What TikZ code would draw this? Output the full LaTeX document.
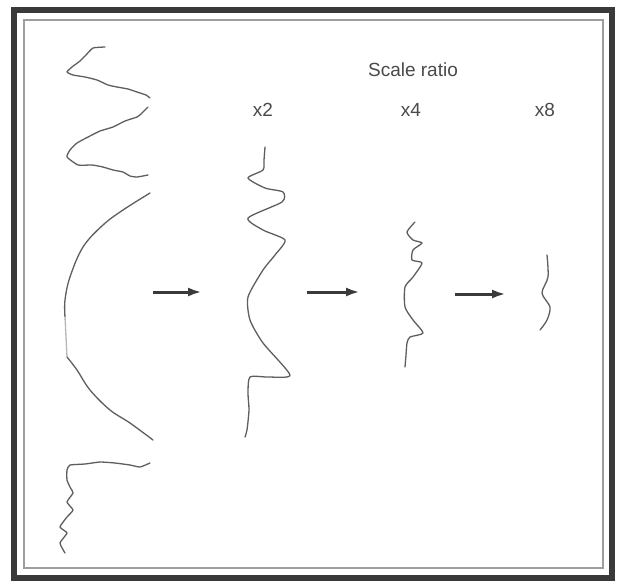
\documentclass[tikz,border=0pt]{standalone}
\usepackage{fontspec}
\usepackage{tikz}
\usetikzlibrary{arrows.meta}
\setsansfont{Liberation Sans}
\definecolor{frame}{HTML}{3A3A3A}
\definecolor{trace}{HTML}{5E5E5E}
\definecolor{label}{HTML}{4A4A4A}

\begin{document}
\begin{tikzpicture}[x=1pt,y=-1pt,
  profile/.style={draw=trace,line width=1.3pt,line join=round,line cap=round},
  shrink/.style={draw=frame,line width=3pt,-{Latex[length=14pt,width=9pt]}},
  ratio/.style={text=label,font=\sffamily\fontsize{19}{21}\selectfont}]
\useasboundingbox (0,0) rectangle (617,584);
\fill[white] (0,0) rectangle (617,584);
% frame
\draw[frame,line width=6pt] (14,10) rectangle (612,578);
\draw[trace!60,line width=1.2pt] (24,20) rectangle (603,568);
% labels
\node[ratio] (title) at (413,70) {Scale ratio};
\node[ratio] (r2) at (263,110) {x2};
\node[ratio] (r4) at (411,110) {x4};
\node[ratio] (r8) at (545,110) {x8};
% original profile
\draw[profile] plot[smooth,tension=0.3] coordinates {(105,47) (93,48) (86,55) (80,61) (72,67) (67,72) (73,75) (85,77) (97,80) (108,85) (117,87) (128,89) (137,92) (146,95) (150,98)};
\draw[profile] plot[smooth,tension=0.3] coordinates {(148,107) (141,114) (137,117) (125,121) (113,127) (100,131) (90,136) (77,143) (70,150) (67,157) (78,165) (92,165) (103,167) (113,170) (123,172) (130,176) (137,177) (148,175)};
\draw[profile] plot[smooth,tension=0.6] coordinates {(150,193) (123,210) (103,225) (83,247) (70,277) (65,300) (65,317)};
\draw[profile,trace!45] (65,317) -- (67,357);
\draw[profile] plot[smooth,tension=0.6] coordinates {(67,357) (77,370) (90,390) (110,410) (130,423) (153,440)};
\draw[profile] plot[smooth,tension=0.3] coordinates {(150,463) (140,467) (130,465) (115,463) (100,462) (85,464) (70,465) (67,470) (67,480) (70,487) (73,493) (67,502) (73,510) (67,517) (60,527) (67,533) (60,543) (65,553)};
% x2
\draw[profile] plot[smooth,tension=0.4] coordinates {(265,147) (264,160) (263,170) (248,178) (265,188) (283,192) (282,202) (248,218) (263,230) (285,240) (275,255) (263,270) (248,297) (250,320) (263,343) (290,375) (268,377) (250,377) (248,393) (249,410) (247,430) (245,437)};
% x4
\draw[profile] plot[smooth,tension=0.4] coordinates {(415,222) (407,232) (413,240) (422,243) (413,250) (412,260) (422,263) (413,277) (405,287) (405,307) (413,320) (423,333) (410,337) (407,343) (406,355) (405,367)};
% x8
\draw[profile] plot[smooth,tension=0.5] coordinates {(547,255) (548,277) (542,293) (550,307) (547,320) (540,330)};
% arrows
\coordinate (a1s) at (153,292);
\coordinate (a1e) at (202,292);
\coordinate (a2s) at (307,292);
\coordinate (a2e) at (360,292);
\coordinate (a3s) at (455,294);
\coordinate (a3e) at (506,294);
\draw[shrink] (a1s) -- (a1e);
\draw[shrink] (a2s) -- (a2e);
\draw[shrink] (a3s) -- (a3e);
\end{tikzpicture}
\end{document}
